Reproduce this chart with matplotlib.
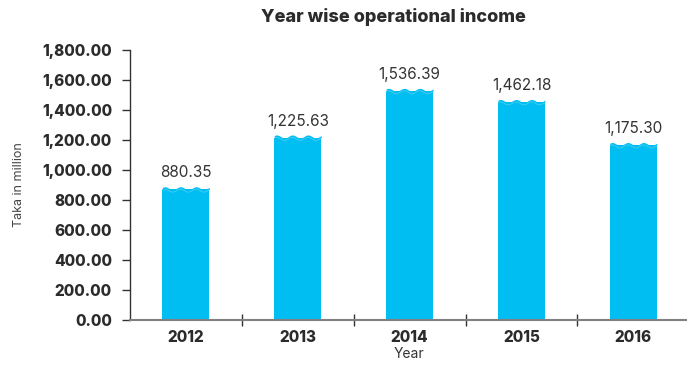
import numpy as np
import matplotlib.pyplot as plt

years = ["2012", "2013", "2014", "2015", "2016"]
income = [880.35, 1225.63, 1536.39, 1462.18, 1175.30]
yticks = [0, 200, 400, 600, 800, 1000, 1200, 1400, 1600, 1800]

bar_color = "#00BDF2"
font = "Inter"

fig = plt.figure(figsize=(6.87, 3.73), dpi=100)
ax = fig.add_axes([130 / 687, 1 - 320 / 373, 1 - 130 / 687, 270 / 373])

x = np.arange(len(years))
width = 0.42
amp = 10  # wave amplitude in data units

# bar bodies, with a wavy cap on top
ax.bar(x, [v - amp for v in income], width=width, color=bar_color, zorder=2)
for xi, v in zip(x, income):
    t = np.linspace(0, 1, 120)
    xs = xi - width / 2 + t * width
    top = v - amp * 0.2 + amp * np.sin(2 * np.pi * 3 * t + 0.6)
    ax.fill_between(xs, v - amp - 1, top, color=bar_color, lw=0, zorder=2)
    ax.plot(xs, top - 1.6 * amp, color="#9FE3F8", lw=0.6, alpha=0.45, zorder=3)
    ax.text(xi, v + 50, f"{v:,.2f}", ha="center", va="bottom",
            fontsize=11, family=font, color="#333333")

ax.set_xlim(-0.5, 4.48)
ax.set_ylim(0, 1800)
ax.set_yticks(yticks)
ax.set_yticklabels([f"{t:,.2f}" for t in yticks], family=font,
                   fontweight="heavy", fontsize=11, color="#2b2b2b")
ax.set_xticks(x)
ax.set_xticklabels(years, family=font, fontweight="heavy", fontsize=11,
                   color="#2b2b2b")
ax.set_xticks(np.arange(0.5, 4, 1), minor=True)

ax.tick_params(axis="y", direction="out", length=6, width=1, pad=7,
               color="#333333")
ax.tick_params(axis="x", which="major", length=0, pad=7)
ax.tick_params(axis="x", which="minor", direction="inout", length=8,
               width=1, color="#333333")

for side in ["top", "right"]:
    ax.spines[side].set_visible(False)
ax.spines["left"].set_color("#333333")
ax.spines["left"].set_linewidth(1)
ax.spines["bottom"].set_color("#808080")
ax.spines["bottom"].set_linewidth(1.5)

ax.set_xlabel("Year", family=font, fontsize=10, color="#333333", labelpad=2)
ax.yaxis.set_label_coords(-105 / 557, 0.5)
ax.set_ylabel("Taka in million", family=font, fontsize=9, color="#444444")

fig.text(393 / 687, 1 - 17 / 373, "Year wise operational income",
         ha="center", va="center", family=font, fontweight="heavy",
         fontsize=13, color="#2b2b2b")

fig.savefig("out.png", dpi=100)
